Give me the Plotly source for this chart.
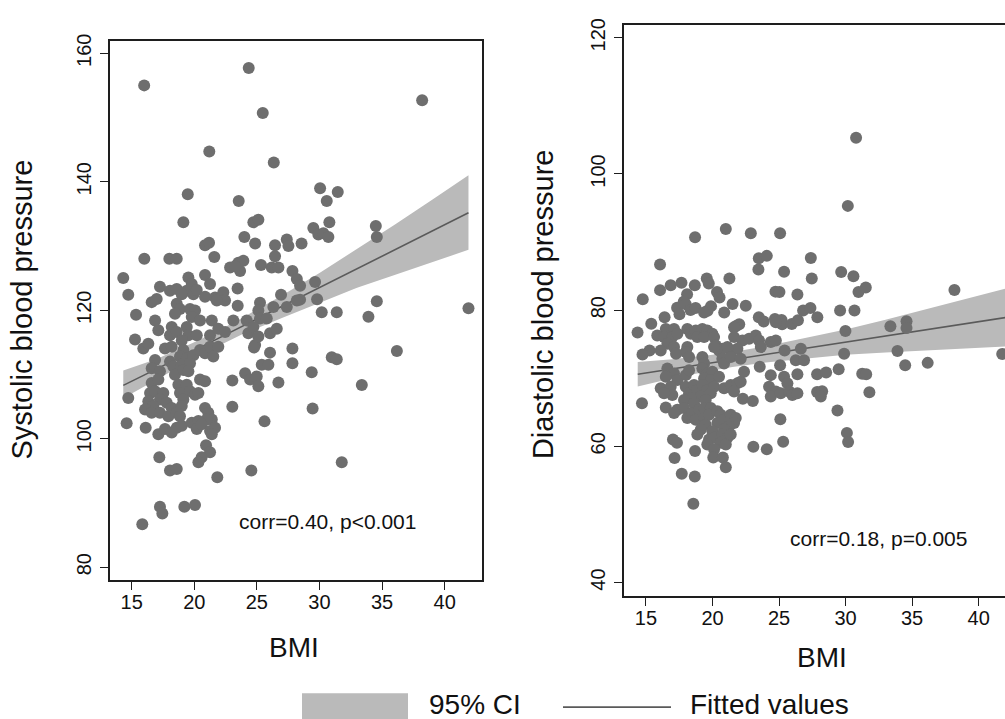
import plotly.graph_objects as go

W, H = 1005, 719

# ---------------- data ----------------
sbp_bmi = [16.0, 24.35, 38.2, 25.47, 21.2, 26.35, 19.48, 23.55, 30.05, 31.46, 30.58, 19.13, 24.72, 25.12, 30.79,
           34.5, 34.58, 24.0, 24.86, 20.86, 21.18, 26.45, 27.39, 27.52, 28.57, 29.51, 29.91, 30.31, 30.71, 16.01,
           18.01, 18.6, 21.6, 26.45, 22.86, 23.52, 23.92, 23.66, 23.26, 25.33, 26.19, 26.72, 27.84, 28.19, 28.45,
           29.65, 14.33, 17.26, 18.06, 18.6, 19.53, 19.8, 19.4, 19.0, 19.93, 20.2, 20.86, 21.26, 14.73, 23.46,
           20.86, 21.66, 22.32, 22.46, 21.8, 26.93, 29.81, 28.45, 25.25, 25.12, 23.47, 26.32, 27.39, 28.19, 16.6,
           17.0, 18.6, 18.86, 18.46, 19.66, 20.06, 19.8, 15.35, 16.87, 20.46, 21.4, 23.12, 24.19, 25.25, 25.79,
           30.18, 31.38, 34.58, 33.91, 41.9, 17.13, 18.2, 18.06, 18.6, 19.4, 19.53, 19.0, 20.2, 21.26, 21.92,
           22.46, 24.32, 24.72, 24.86, 25.12, 26.05, 26.59, 15.27, 15.93, 16.33, 17.66, 18.2, 19.13, 18.86, 19.4,
           19.93, 20.46, 20.86, 21.26, 21.92, 21.52, 16.87, 16.6, 17.26, 18.06, 18.33, 18.46, 19.0, 19.13, 19.66,
           19.53, 26.05, 27.84, 27.84, 25.39, 25.92, 29.38, 24.06, 24.46, 24.99, 25.12, 23.04, 26.72, 20.46, 20.86,
           14.73, 16.6, 17.13, 16.47, 16.87, 17.53, 17.26, 16.33, 16.73, 16.07, 16.6, 17.26, 17.8, 18.2, 17.93,
           18.73, 18.86, 19.4, 19.66, 20.06, 20.33, 19.13, 19.0, 23.04, 29.45, 20.86, 21.12, 21.4, 21.0, 18.6,
           18.86, 14.6, 16.12, 17.13, 17.66, 18.2, 18.6, 19.0, 19.8, 20.33, 20.2, 20.59, 21.26, 21.66, 21.4,
           25.61, 20.94, 21.26, 20.59, 20.33, 17.21, 18.06, 18.6, 21.84, 24.56, 17.26, 17.45, 19.21, 20.06, 15.85,
           31.78, 30.98, 31.38, 33.38, 36.18, 24.77]
sbp = [155.0, 157.7, 152.7, 150.7, 144.7, 143.0, 138.05, 137.0, 139.0, 138.4, 137.0, 133.7, 133.7, 134.1, 133.7,
       133.1, 131.4, 131.4, 130.4, 130.1, 130.5, 130.1, 131.0, 130.0, 130.4, 132.8, 131.8, 132.0, 131.4, 128.0,
       128.0, 128.0, 128.3, 128.4, 126.65, 127.4, 127.7, 126.1, 126.85, 127.05, 126.65, 126.65, 126.1, 124.85, 123.8,
       124.4, 125.0, 123.66, 123.04, 123.3, 125.1, 124.1, 123.04, 122.5, 122.5, 123.15, 125.5, 124.1, 122.4, 123.4,
       122.1, 122.0, 122.8, 121.5, 121.5, 122.4, 121.7, 121.65, 121.15, 119.96, 120.7, 120.5, 120.5, 121.5, 121.26,
       121.76, 121.0, 120.2, 119.45, 120.2, 119.96, 118.94, 119.3, 118.4, 118.4, 118.4, 118.4, 118.4, 118.7, 118.7,
       119.7, 119.7, 121.4, 119.0, 120.3, 116.9, 117.4, 116.1, 116.6, 117.4, 116.1, 115.3, 116.1, 116.1, 117.1,
       116.6, 116.4, 117.4, 114.6, 115.9, 116.4, 117.1, 115.45, 114.06, 114.8, 114.06, 114.3, 113.8, 112.8, 112.5,
       113.0, 113.8, 113.3, 114.3, 114.3, 112.8, 112.26, 110.98, 110.5, 112.0, 111.24, 109.94, 111.5, 110.7, 111.75,
       110.5, 113.4, 114.06, 111.75, 111.5, 111.5, 110.36, 110.2, 109.2, 109.7, 108.16, 109.05, 108.74, 109.2, 108.93,
       106.35, 108.67, 109.2, 107.1, 107.4, 107.1, 106.1, 105.85, 105.1, 104.55, 104.04, 104.04, 105.6, 104.8, 103.5,
       108.4, 107.1, 108.4, 107.4, 106.86, 107.1, 106.1, 105.1, 104.97, 104.7, 104.8, 104.04, 103.0, 103.0, 104.04,
       103.5, 102.4, 101.7, 100.7, 101.5, 100.96, 101.7, 102.0, 102.5, 102.76, 101.5, 102.24, 101.2, 101.7, 100.7,
       102.7, 99.0, 97.88, 97.1, 96.34, 97.1, 95.06, 95.3, 94.0, 95.06, 89.4, 88.37, 89.4, 89.67, 86.68,
       96.34, 112.67, 112.36, 108.36, 113.67, 114.2]

dbp_bmi = [30.79, 30.17, 21.0, 18.69, 22.88, 25.08, 16.06, 23.48, 24.08, 23.45, 27.39, 29.67, 30.59, 30.97, 31.52,
           38.18, 25.38, 27.46, 21.27, 19.57, 19.72, 17.67, 16.86, 16.06, 18.67, 14.76, 20.34, 20.53, 18.09, 17.84,
           24.73, 25.03, 26.38, 21.51, 22.5, 17.34, 17.52, 17.99, 18.35, 18.73, 19.63, 19.89, 19.37, 20.88, 26.81,
           27.36, 27.88, 29.59, 30.67, 16.4, 15.4, 14.37, 23.48, 23.85, 24.69, 25.19, 25.23, 24.76, 25.96, 26.42,
           21.81, 22.01, 21.62, 33.37, 34.58, 34.58, 29.99, 16.49, 17.11, 15.85, 16.36, 16.98, 17.36, 16.61, 17.11,
           16.11, 18.11, 18.37, 18.74, 19.24, 19.61, 19.99, 18.86, 19.37, 20.12, 21.62, 22.25, 22.75, 23.25, 23.5,
           24.38, 24.76, 20.25, 20.74, 20.49, 21.37, 21.87, 18.11, 17.99, 15.27, 14.74, 25.42, 26.64, 23.63, 29.89,
           33.9, 41.77, 17.26, 18.24, 19.24, 19.37, 20.12, 21.12, 20.74, 20.87, 21.37, 22.12, 26.26, 26.88, 23.55,
           25.08, 26.38, 27.86, 28.54, 24.38, 24.25, 24.76, 24.38, 25.13, 25.38, 25.63, 25.76, 26.0, 26.38, 27.86,
           28.24, 28.14, 16.61, 17.11, 16.49, 17.36, 17.99, 18.24, 19.24, 19.61, 19.99, 19.37, 19.87, 20.49, 16.11,
           16.86, 16.98, 16.36, 17.99, 18.24, 18.61, 18.86, 19.24, 19.61, 20.12, 19.87, 19.12, 18.37, 17.86, 18.61,
           19.49, 20.87, 21.49, 21.37, 21.87, 22.12, 21.62, 22.37, 14.7, 16.49, 22.28, 23.03, 17.36, 17.86, 17.11,
           18.11, 18.49, 18.99, 19.37, 19.87, 18.74, 19.37, 19.74, 20.37, 20.62, 20.87, 20.37, 21.37, 21.75, 21.62,
           21.24, 20.87, 19.49, 19.12, 18.86, 19.99, 19.74, 20.12, 20.74, 21.12, 20.62, 21.0, 21.37, 25.1, 17.03,
           17.33, 18.69, 19.61, 20.12, 23.07, 24.08, 25.31, 17.15, 20.06, 20.78, 21.0, 17.69, 18.67, 18.56, 34.48,
           36.17, 29.48, 31.25, 31.55, 31.79, 29.39, 30.1, 30.19]
dbp = [105.3, 95.31, 91.92, 90.69, 91.3, 91.3, 86.69, 87.61, 87.97, 85.97, 87.67, 85.6, 84.99, 82.65, 83.31,
       82.96, 85.63, 84.66, 84.66, 84.66, 83.93, 84.03, 83.64, 82.94, 83.64, 81.6, 82.65, 81.85, 82.33, 81.24,
       82.72, 82.65, 82.29, 80.92, 80.63, 80.34, 79.38, 80.88, 80.01, 80.3, 79.9, 80.59, 79.67, 79.67, 79.96,
       80.3, 78.95, 79.96, 79.96, 78.95, 78.02, 76.71, 78.95, 78.33, 78.7, 78.55, 77.93, 78.22, 77.97, 78.51,
       77.72, 77.93, 77.49, 77.64, 78.36, 77.39, 76.95, 77.24, 77.24, 76.27, 76.04, 76.04, 76.52, 75.06, 74.58,
       74.09, 77.24, 76.52, 77.0, 77.24, 77.0, 76.52, 76.04, 76.04, 76.04, 76.04, 75.54, 75.79, 76.27, 75.54,
       75.31, 75.54, 74.82, 74.34, 74.09, 74.09, 74.34, 74.58, 73.86, 74.09, 73.49, 74.09, 74.34, 74.58, 73.61,
       74.0, 73.57, 73.61, 73.13, 73.13, 72.16, 74.58, 74.58, 72.88, 72.16, 73.13, 72.88, 72.64, 72.64, 71.68,
       71.91, 70.6, 70.6, 70.85, 70.46, 68.77, 68.04, 67.32, 67.8, 70.22, 69.25, 68.04, 67.55, 67.8, 67.99,
       68.09, 67.32, 71.43, 70.7, 70.22, 69.73, 70.46, 71.18, 71.43, 70.7, 70.95, 69.98, 69.73, 70.22, 68.52,
       68.77, 67.55, 67.8, 68.77, 67.8, 69.0, 68.28, 69.0, 68.28, 68.77, 67.8, 67.32, 67.07, 66.82, 66.34,
       66.82, 68.52, 68.52, 69.0, 69.25, 69.5, 68.04, 70.95, 66.34, 65.69, 67.0, 66.66, 65.37, 65.62, 64.89,
       64.16, 64.89, 65.37, 65.62, 65.62, 63.92, 64.16, 64.64, 65.14, 64.64, 63.92, 63.44, 64.64, 64.16, 63.44,
       62.96, 62.46, 63.19, 62.46, 61.74, 62.23, 61.01, 61.26, 61.74, 61.26, 60.53, 60.28, 61.74, 63.97, 61.01,
       60.53, 59.32, 60.28, 59.56, 59.95, 59.58, 60.67, 58.28, 58.35, 58.35, 56.94, 55.98, 55.59, 51.56, 71.91,
       72.26, 71.31, 70.66, 70.6, 67.94, 65.28, 61.98, 60.63]

# fitted line and 95% CI
sbp_fit_x = [14.33, 17, 20, 21.8, 24, 27, 30, 33, 36, 39, 41.9]
sbp_fit = [108.3, 110.81, 113.75, 115.5, 117.66, 120.59, 123.53, 126.46, 129.39, 132.33, 135.16]
sbp_ci_hi = [110.6, 112.4, 115.0, 116.7, 119.0, 122.3, 125.8, 129.5, 133.3, 137.2, 141.0]
sbp_ci_lo = [106.3, 109.2, 112.5, 114.3, 116.4, 118.8, 121.2, 123.5, 125.5, 127.5, 129.4]

dbp_fit_x = [14.38, 17, 20, 21.5, 24, 27, 30, 33, 36, 39, 42]
dbp_fit = [70.6, 71.39, 72.29, 72.74, 73.49, 74.39, 75.29, 76.2, 77.1, 78.0, 78.9]
dbp_ci_hi = [72.4, 72.8, 73.45, 73.85, 74.7, 75.9, 77.15, 78.6, 80.1, 81.6, 83.15]
dbp_ci_lo = [68.8, 70.0, 71.15, 71.65, 72.3, 72.9, 73.45, 73.8, 74.1, 74.4, 74.65]

x_ticks = [15, 20, 25, 30, 35, 40]
sbp_ticks = [80, 100, 120, 140, 160]
dbp_ticks = [40, 60, 80, 100, 120]

corr_texts = ["corr=0.40, p<0.001", "corr=0.18, p=0.005"]
y_titles = ["Systolic blood pressure", "Diastolic blood pressure"]
x_title = "BMI"
legend_labels = ["95% CI", "Fitted values"]

# ---------------- styling ----------------
FONT = "Liberation Sans, Arial, Helvetica, sans-serif"
PT_COL = "#6e6e6e"
BAND_COL = "#bababa"
LINE_COL = "#5a5a5a"
AX_COL = "#1e1e1e"
TXT_COL = "#111111"

fig = go.Figure()

def add_panel(xa, ya, bx, by, fx, fy, lo, hi):
    fig.add_trace(go.Scatter(x=fx, y=lo, mode="lines", line=dict(width=0, color=BAND_COL),
                             xaxis=xa, yaxis=ya, showlegend=False, hoverinfo="skip"))
    fig.add_trace(go.Scatter(x=fx, y=hi, mode="lines", line=dict(width=0, color=BAND_COL),
                             fill="tonexty", fillcolor=BAND_COL,
                             xaxis=xa, yaxis=ya, showlegend=False, hoverinfo="skip"))
    fig.add_trace(go.Scatter(x=fx, y=fy, mode="lines", line=dict(width=1.6, color=LINE_COL),
                             xaxis=xa, yaxis=ya, showlegend=False))
    fig.add_trace(go.Scatter(x=bx, y=by, mode="markers",
                             marker=dict(size=12, color=PT_COL, line=dict(width=0)),
                             xaxis=xa, yaxis=ya, showlegend=False))

add_panel("x", "y", sbp_bmi, sbp, sbp_fit_x, sbp_fit, sbp_ci_lo, sbp_ci_hi)
add_panel("x2", "y2", dbp_bmi, dbp, dbp_fit_x, dbp_fit, dbp_ci_lo, dbp_ci_hi)

tickfont = dict(family=FONT, size=20, color=TXT_COL)
common_x = dict(showline=True, linecolor=AX_COL, linewidth=1.5, ticks="outside", ticklen=8,
                tickwidth=1.3, tickcolor=AX_COL, showgrid=False, zeroline=False,
                tickvals=x_ticks, tickfont=tickfont, mirror=True, fixedrange=True,
                ticklabelstandoff=-5)
common_y = dict(showline=True, linecolor=AX_COL, linewidth=1.5, ticks="outside", ticklen=8,
                tickwidth=1.3, tickcolor=AX_COL, showgrid=False, zeroline=False,
                tickangle=-90, tickfont=tickfont, ticklabelstandoff=1, fixedrange=True)

fig.update_layout(
    width=W, height=H, autosize=False,
    margin=dict(l=0, r=0, t=0, b=0),
    paper_bgcolor="white", plot_bgcolor="white",
    showlegend=False,
    xaxis=dict(common_x, domain=[110 / W, 482 / W], range=[13.27, 42.98], anchor="y"),
    yaxis=dict(common_y, domain=[1 - 579 / H, 1 - 34 / H], range=[77.95, 161.96],
               tickvals=sbp_ticks, mirror=True, anchor="x"),
    xaxis2=dict(common_x, domain=[624 / W, 1.0], range=[13.35, 41.98], anchor="y2"),
    yaxis2=dict(common_y, domain=[1 - 595 / H, 1 - 18.3 / H], range=[38.0, 121.85],
                tickvals=dbp_ticks, mirror=False, anchor="x2"),
)

def txt(text, x, y, size, xref="paper", yref="paper", angle=0, xanchor="center"):
    return dict(text=text, x=x, y=y, xref=xref, yref=yref, showarrow=False, textangle=angle,
                xanchor=xanchor, yanchor="middle", font=dict(family=FONT, size=size, color=TXT_COL))

ann = [
    txt(corr_texts[0], 30.64, 87.1, 21, "x", "y"),
    txt(corr_texts[1], 32.45, 46.4, 21, "x2", "y2"),
    txt(y_titles[0], 22.5 / W, 1 - 306 / H, 29, angle=-90),
    txt(y_titles[1], 543 / W, 1 - 301 / H, 29, angle=-90),
    txt(x_title, 294.3 / W, 1 - 646.7 / H, 28),
    txt(x_title, 821.7 / W, 1 - 656.7 / H, 28),
    txt(legend_labels[0], 427 / W, 1 - 704 / H, 28, xanchor="left"),
    txt(legend_labels[1], 688 / W, 1 - 704 / H, 28, xanchor="left"),
]
fig.update_layout(annotations=ann)

fig.add_shape(type="rect", xref="paper", yref="paper", x0=302 / W, x1=408 / W, y0=-0.02, y1=1 - 693 / H,
              fillcolor=BAND_COL, line=dict(width=0))
fig.add_shape(type="line", xref="paper", yref="paper", x0=563 / W, x1=671 / W, y0=1 - 707 / H, y1=1 - 707 / H,
              line=dict(color=LINE_COL, width=1.6))

fig.write_html("out.html", config={"displayModeBar": False},
               post_script="document.body.style.margin='0';document.body.style.padding='0';document.body.style.overflow='hidden';")
